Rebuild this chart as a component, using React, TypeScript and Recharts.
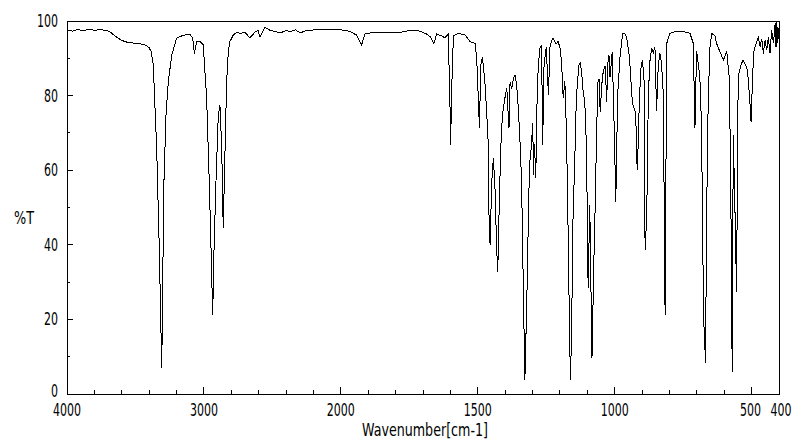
import React from "react";
import { LineChart, Line, XAxis, YAxis, ReferenceArea } from "recharts";

// IR spectrum, %T vs wavenumber (scale halves above 2000 cm-1)
const wavenumbers = [
  4000, 3960, 3920, 3880, 3840, 3800, 3760, 3720, 3690, 3660, 3630, 3600, 3560, 3500, 3450, 3420,
  3400, 3385, 3370, 3345, 3326, 3316, 3308, 3301, 3292, 3277, 3260, 3235, 3199, 3151, 3102, 3082,
  3070, 3053, 3029, 3005, 2980, 2961, 2948, 2936, 2926, 2912, 2895, 2883, 2870, 2859, 2846, 2834,
  2822, 2810, 2786, 2761, 2737, 2700, 2664, 2627, 2605, 2591, 2554, 2517, 2481, 2444, 2400, 2371,
  2330, 2298, 2262, 2200, 2152, 2079, 2006, 1967, 1942, 1924, 1912, 1894, 1857, 1821, 1796, 1778,
  1760, 1737, 1711, 1687, 1674, 1660, 1650, 1632, 1620, 1608, 1602, 1599, 1596, 1589, 1577, 1565,
  1547, 1528, 1510, 1504, 1498, 1494, 1489, 1483, 1474, 1467, 1462, 1459, 1455, 1449, 1443, 1437,
  1431, 1427, 1421, 1416, 1410, 1401, 1394, 1386, 1382, 1376, 1370, 1364, 1358, 1352, 1346, 1340,
  1334, 1328, 1321, 1315, 1311, 1305, 1299, 1297, 1293, 1288, 1285, 1279, 1273, 1267, 1263, 1258,
  1250, 1242, 1236, 1226, 1214, 1207, 1200, 1194, 1188, 1182, 1176, 1171, 1164, 1161, 1156, 1152,
  1146, 1140, 1131, 1126, 1121, 1115, 1109, 1103, 1097, 1091, 1087, 1083, 1075, 1072, 1066, 1061,
  1057, 1053, 1047, 1042, 1035, 1029, 1026, 1021, 1017, 1009, 1001, 996, 989, 981, 971, 962,
  956, 946, 937, 932, 926, 922, 920, 917, 911, 905, 899, 893, 889, 883, 877, 871,
  865, 859, 853, 847, 841, 835, 829, 823, 819, 816, 810, 798, 774, 750, 725, 713,
  707, 701, 689, 683, 678, 675, 668, 665, 659, 653, 646, 634, 628, 617, 603, 591,
  582, 577, 574, 571, 567, 561, 555, 549, 543, 537, 531, 525, 518, 513, 506, 502,
  496, 491, 484, 476, 469, 463, 457, 451, 445, 439, 433, 427, 420, 414, 411, 408,
  405, 400,
];

const transmittance = [
  97.6, 97.3, 97.7, 97.4, 97.8, 97.5, 97.7, 97.5, 97.2, 96.3, 95.5, 94.8, 94.3, 94.0, 93.8, 93.4,
  92.8, 91.8, 88.2, 65.9, 39, 21.2, 6.9, 30.1, 56.9, 74.8, 83.7, 90.9, 95.4, 96.2, 96.4, 95.5,
  91.3, 94.5, 94.6, 93.6, 79.3, 56.9, 39, 21.2, 39, 56.9, 74.8, 77.5, 65.9, 44.4, 65, 83.7,
  91.8, 94.5, 96.2, 97.0, 96.7, 96.9, 95.5, 97.0, 97.5, 95.8, 98.3, 97.5, 97.2, 96.8, 97.4, 97.2,
  97.6, 96.8, 97.3, 97.6, 97.7, 97.6, 97.7, 97.2, 96.2, 93.6, 96.5, 96.8, 97.0, 97.0, 96.8, 97.0,
  97.3, 97.5, 97.3, 96.5, 95.8, 94.0, 96.5, 96.0, 95.5, 96.5, 80, 66.8, 80, 96.0, 96.5, 96.6,
  96.3, 94.5, 94.0, 90, 79.4, 71.2, 88.2, 90.4, 83.7, 74.8, 67.6, 48, 40, 56.9, 63.2, 55,
  39, 32.8, 52.5, 65.9, 74.8, 79.3, 81.9, 71.2, 83.7, 81.9, 84.5, 85.5, 83, 76.6, 68, 56.9,
  30.1, 3.8, 24.7, 48, 61.4, 65.9, 72.6, 58.7, 67, 57.9, 74.8, 88.2, 92.7, 93.6, 66.8, 88,
  93, 80.2, 93.5, 95.4, 93.8, 94.5, 93.0, 89, 79.3, 84, 70, 48, 12.3, 3.8, 25, 48,
  62, 79.3, 88.2, 88.8, 86.5, 81, 78, 65.9, 28.4, 50.7, 30, 9.6, 39, 48, 70.3, 83.7,
  84.5, 75.7, 83, 86.4, 88, 78.4, 88, 90.9, 85, 91.8, 69, 51.6, 80.6, 90, 96.7, 96.5,
  95.5, 90.4, 79.7, 77, 76, 71.7, 63.6, 60, 76, 86.9, 89.5, 85, 38.6, 47.5, 80.6, 89.5,
  92.8, 91.5, 93, 76, 88, 91.3, 88.6, 81, 50, 21.2, 94, 96.7, 97.3, 97.2, 96.7, 94,
  71.2, 92, 85, 72, 37.8, 20, 8.2, 44, 76.1, 92.2, 96.7, 96, 94, 92, 89.5, 92,
  85, 62.7, 36, 6, 69.4, 50, 27.4, 85, 87, 88.6, 89.5, 88.6, 87.7, 85, 78, 73,
  86, 92.2, 93.8, 95.6, 93.1, 95.2, 91.3, 94.8, 92.2, 95.6, 91.3, 97.5, 94, 99.4, 93, 100,
  94, 98,
];

const xMajorTicks = [4000, 3000, 2000, 1500, 1000, 500, 400];
const xMinorTicks = [
  3800, 3600, 3400, 3200, 2800, 2600, 2400, 2200,
  1900, 1800, 1700, 1600, 1400, 1300, 1200, 1100, 900, 800, 700, 600,
];
const yTicks = [0, 10, 20, 30, 40, 50, 60, 70, 80, 90, 100];
const yLabelled = [0, 20, 40, 60, 80, 100];

const W = 800;
const H = 441;
const X_AXIS_H = 47;
const Y_AXIS_W = 67;
const PLOT_LEFT = Y_AXIS_W;
const PLOT_BOTTOM = H - X_AXIS_H;
const FONT = "'Liberation Sans Narrow', 'DejaVu Sans Condensed', 'Liberation Sans', sans-serif";
const FS = 17;
const CHAR_W = 7;

// 4000-2000 drawn at half the scale of 2000-400
function toAxis(wn: number) {
  return wn >= 2000 ? (4000 - wn) / 2 : 1000 + (2000 - wn);
}

const chartData = wavenumbers.map((wn, i) => ({ t: toAxis(wn), T: transmittance[i] }));
const allXTicks = [...xMajorTicks, ...xMinorTicks].map(toAxis).sort((a, b) => a - b);
const xLabelAt = new Map(xMajorTicks.map((wn) => [toAxis(wn), wn]));

function renderXTick(props: any) {
  const { x, payload } = props;
  const wn = xLabelAt.get(payload.value);
  const len = wn !== undefined ? 7 : 4;
  const label = wn !== undefined ? String(wn) : "";
  // last label sits a bit right so "500 400" keep their gap
  const dx = wn === 400 ? 2 : wn === 500 ? -1 : 0;
  return (
    <g key={`xt-${payload.value}`}>
      <line x1={x} x2={x} y1={PLOT_BOTTOM} y2={PLOT_BOTTOM - len} stroke="#000" />
      {label && (
        <text
          x={x + dx}
          y={PLOT_BOTTOM + 22}
          textAnchor="middle"
          fontFamily={FONT}
          fontSize={FS}
          fill="#000"
          textLength={label.length * CHAR_W}
          lengthAdjust="spacingAndGlyphs"
        >
          {label}
        </text>
      )}
    </g>
  );
}

function renderYTick(props: any) {
  const { y, payload } = props;
  const v = payload.value;
  const labelled = yLabelled.includes(v);
  const label = String(v);
  // the "0" is lifted a little so it clears the "4000" below it
  const dy = v === 0 ? 3 : 6;
  return (
    <g key={`yt-${v}`}>
      <line x1={PLOT_LEFT} x2={PLOT_LEFT + (labelled ? 6 : 3)} y1={y} y2={y} stroke="#000" />
      {labelled && (
        <text
          x={PLOT_LEFT - 9}
          y={y + dy}
          textAnchor="end"
          fontFamily={FONT}
          fontSize={FS}
          fill="#000"
          textLength={label.length * CHAR_W}
          lengthAdjust="spacingAndGlyphs"
        >
          {label}
        </text>
      )}
    </g>
  );
}

export default function App() {
  return (
    <div
      style={{
        position: "absolute",
        left: 0,
        top: 0,
        width: W,
        height: H,
        background: "#fff",
        shapeRendering: "crispEdges",
      }}
    >
      <LineChart
        width={W}
        height={H}
        data={chartData}
        margin={{ top: 21, right: 21, bottom: 0, left: 0 }}
      >
        <XAxis
          dataKey="t"
          type="number"
          domain={[0, 2600]}
          ticks={allXTicks}
          interval={0}
          height={X_AXIS_H}
          tickLine={false}
          axisLine={{ stroke: "#000" }}
          tick={renderXTick}
        />
        <YAxis
          type="number"
          domain={[0, 100]}
          ticks={yTicks}
          interval={0}
          width={Y_AXIS_W}
          tickLine={false}
          axisLine={{ stroke: "#000" }}
          tick={renderYTick}
        />
        <ReferenceArea x1={0} x2={2600} y1={0} y2={100} fill="none" stroke="#000" />
        <Line
          type="linear"
          dataKey="T"
          stroke="#000"
          strokeWidth={1}
          dot={false}
          isAnimationActive={false}
        />
      </LineChart>
      <svg
        width={W}
        height={H}
        style={{ position: "absolute", left: 0, top: 0, pointerEvents: "none" }}
      >
        <text
          x={24}
          y={224}
          textAnchor="middle"
          fontFamily={FONT}
          fontSize={FS}
          textLength={20}
          lengthAdjust="spacingAndGlyphs"
        >
          %T
        </text>
        <text
          x={425}
          y={436}
          textAnchor="middle"
          fontFamily={FONT}
          fontSize={FS}
          textLength={126}
          lengthAdjust="spacingAndGlyphs"
        >
          Wavenumber[cm-1]
        </text>
      </svg>
    </div>
  );
}
